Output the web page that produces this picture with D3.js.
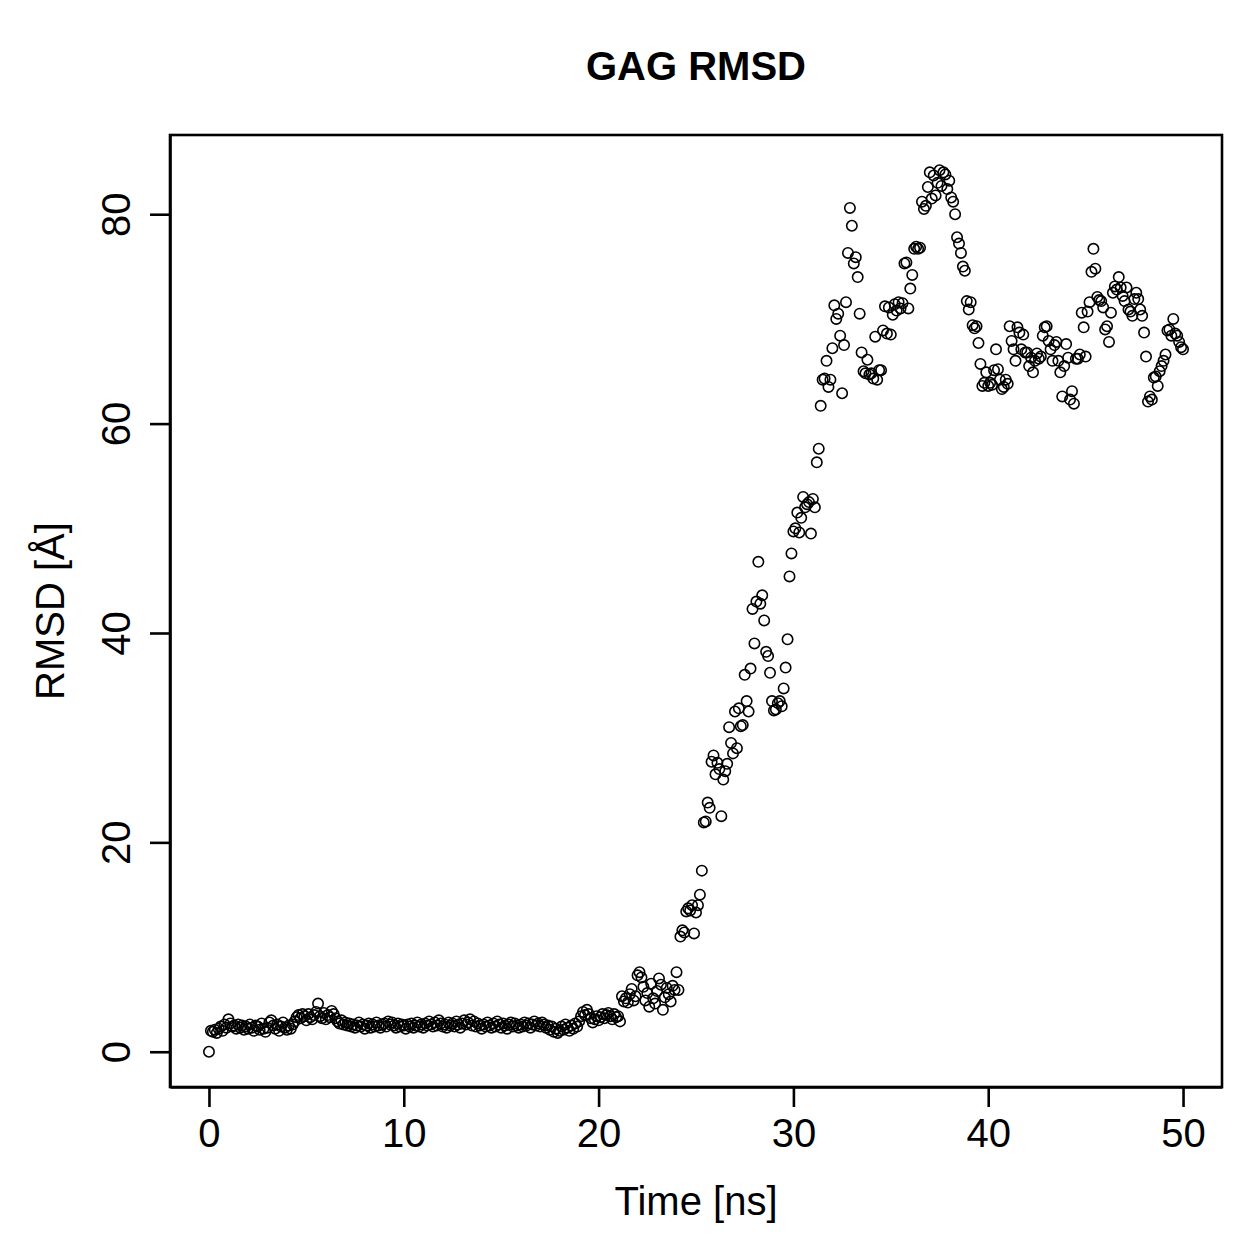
<!DOCTYPE html>
<html>
<head>
<meta charset="utf-8">
<script src="https://cdn.jsdelivr.net/npm/d3@7"></script>
<style>
  body { margin: 0; background: #fff; }
  svg { display: block; }
  text { font-family: "Liberation Sans", Arial, Helvetica, sans-serif; fill: #000; }
</style>
</head>
<body>
<div id="chart"></div>
<script>
const titleText = "GAG RMSD";
const xLabel = "Time [ns]";
const yLabel = "RMSD [Å]";
const xTicks = [0, 10, 20, 30, 40, 50];
const yTicks = [0, 20, 40, 60, 80];
const timeStep = 0.1; // ns between frames

// RMSD per frame, one row per ns
const rmsd = [
  0.0, 2.0, 1.9, 2.1, 1.8, 2.2, 2.4, 2.0, 2.6, 2.3,
  3.1, 2.7, 2.4, 2.5, 2.2, 2.6, 2.3, 2.5, 2.1, 2.4,
  2.2, 2.6, 2.3, 2.0, 2.5, 2.4, 2.1, 2.7, 2.2, 1.9,
  2.3, 2.8, 3.0, 2.5, 2.2, 2.6, 2.0, 2.4, 2.8, 2.3,
  2.1, 2.5, 2.2, 2.6, 2.9, 3.3, 3.5, 3.2, 3.6, 3.4,
  3.0, 3.6, 3.3, 3.1, 3.5, 3.8, 4.6, 3.4, 3.2, 3.7,
  3.1, 3.5, 3.3, 3.9, 3.6, 3.2, 2.9, 2.7, 3.0, 2.6,
  2.8, 2.5, 2.7, 2.4, 2.6, 2.3, 2.5, 2.8, 2.4, 2.6,
  2.2, 2.5, 2.7, 2.3, 2.6, 2.4, 2.8, 2.5, 2.3, 2.6,
  2.7, 2.4, 2.9, 2.6, 2.8, 2.5, 2.3, 2.7, 2.4, 2.6,
  2.5, 2.2, 2.6, 2.4, 2.7, 2.3, 2.5, 2.8, 2.4, 2.6,
  2.3, 2.7, 2.5, 2.9, 2.6, 2.4, 2.8, 2.5, 3.0, 2.7,
  2.4, 2.6, 2.3, 2.8, 2.5, 2.7, 2.4, 2.9, 2.6, 2.3,
  2.7, 3.0, 2.6, 2.8, 3.1, 2.5, 2.9, 2.4, 2.7, 2.5,
  2.2, 2.6, 2.4, 2.8, 2.5, 2.3, 2.7, 2.4, 2.9, 2.6,
  2.3, 2.7, 2.5, 2.2, 2.6, 2.8, 2.4, 2.7, 2.5, 2.3,
  2.6, 2.4, 2.8, 2.5, 2.7, 2.3, 2.6, 2.9, 2.5, 2.7,
  2.4, 2.8, 2.6, 2.3, 2.5, 2.1, 2.4, 1.9, 2.2, 1.8,
  2.0, 2.4, 2.1, 2.6, 2.3, 2.0, 2.5, 2.2, 2.7, 2.4,
  2.9, 3.4, 3.8, 3.5, 4.0, 3.6, 3.2, 2.8, 3.1, 3.4,
  3.0, 3.3, 3.6, 3.2, 3.5, 3.7, 3.4, 3.1, 3.6, 3.3,
  3.4, 2.9, 5.3, 4.8, 5.1, 4.7, 5.5, 6.0, 4.9, 5.3,
  7.3, 7.6, 7.1, 6.2, 4.9, 5.6, 4.3, 6.5, 5.1, 4.6,
  5.8, 7.0, 6.4, 4.0, 5.2, 6.1, 5.5, 4.8, 6.3, 5.9,
  7.6, 5.9, 11.0, 11.6, 11.4, 13.4, 13.7, 13.5, 14.0, 11.3,
  13.3, 14.0, 15.0, 17.3, 21.9, 22.0, 23.8, 23.3, 27.7, 28.3,
  26.5, 27.6, 27.0, 22.5, 26.0, 26.8, 27.5, 31.0, 29.5, 28.5,
  32.5, 29.0, 32.8, 31.1, 31.2, 36.0, 33.5, 32.5, 36.6, 42.3,
  39.0, 43.0, 46.8, 42.8, 43.6, 41.2, 38.2, 37.8, 36.2, 33.5,
  32.6, 32.7, 33.3, 33.5, 33.0, 34.7, 36.7, 39.4, 45.4, 47.6,
  49.7, 50.0, 51.5, 49.6, 51.0, 53.0, 52.0, 52.3, 52.5, 49.5,
  52.8, 52.0, 56.3, 57.6, 61.7, 64.2, 64.3, 66.0, 63.5, 64.2,
  67.2, 71.3, 70.0, 70.5, 68.4, 62.9, 67.5, 71.6, 76.3, 80.6,
  78.9, 75.3, 75.9, 74.0, 70.5, 66.8, 65.0, 64.8, 66.1, 64.7,
  64.8, 64.3, 68.3, 64.2, 65.1, 65.1, 68.9, 71.2, 68.6, 71.1,
  68.5, 70.4, 71.4, 70.8, 71.6, 71.0, 71.5, 75.3, 75.4, 71.0,
  72.9, 74.2, 76.7, 76.9, 76.7, 76.8, 81.2, 80.5, 80.8, 82.6,
  84.0, 81.5, 83.7, 81.8, 83.0, 84.2, 82.7, 84.0, 83.8, 82.4,
  83.2, 81.6, 81.2, 80.0, 77.8, 77.2, 76.3, 75.0, 74.6, 71.7,
  70.9, 71.6, 69.4, 69.1, 69.3, 67.7, 65.7, 63.6, 63.9, 64.9,
  63.6, 63.9, 63.7, 65.1, 67.1, 65.2, 64.2, 63.3, 63.5, 64.2,
  63.8, 69.3, 67.9, 67.1, 66.0, 69.2, 68.7, 67.1, 68.5, 66.8,
  66.8, 65.5, 66.3, 64.9, 66.0, 66.7, 66.2, 66.4, 68.4, 69.2,
  69.3, 67.9, 67.1, 66.0, 67.5, 67.8, 66.0, 64.9, 62.6, 65.5,
  67.6, 66.3, 62.3, 63.1, 61.9, 66.2, 66.2, 66.6, 70.6, 69.2,
  66.4, 70.7, 71.6, 74.5, 76.7, 74.8, 72.1, 71.8, 71.7, 71.1,
  69.0, 69.3, 67.8, 70.6, 72.5, 73.1, 72.8, 74.0, 73.0, 72.2,
  71.7, 73.0, 70.9, 70.7, 70.3, 71.9, 72.5, 71.9, 70.9, 70.3,
  68.7, 66.4, 62.1, 62.6, 62.3, 64.4, 64.5, 63.6, 65.0, 65.5,
  66.0, 66.6, 68.9, 69.0, 68.4, 70.0, 68.6, 68.4, 67.8, 67.3,
  67.1
];

const data = rmsd.map((v, i) => ({ time: +(i * timeStep).toFixed(1), value: v }));

const W = 1259, H = 1259;
const margin = { top: 135, right: 37, bottom: 172, left: 170 };
const width = W - margin.left - margin.right;
const height = H - margin.top - margin.bottom;
const fontSize = 40;

const svg = d3.select("#chart")
  .append("svg")
  .attr("width", W)
  .attr("height", H);

const g = svg.append("g")
  .attr("transform", `translate(${margin.left},${margin.top})`);

// R style: extend range by 4% on each side
const pad = (lo, hi) => { const d = (hi - lo) * 0.04; return [lo - d, hi + d]; };
const xExt = d3.extent(data, d => d.time);
const yExt = d3.extent(data, d => d.value);

const x = d3.scaleLinear().domain(pad(xExt[0], xExt[1])).range([0, width]);
const y = d3.scaleLinear().domain(pad(yExt[0], yExt[1])).range([height, 0]);

// points
g.append("g")
  .selectAll("circle")
  .data(data)
  .join("circle")
  .attr("cx", d => x(d.time))
  .attr("cy", d => y(d.value))
  .attr("r", 5.2)
  .attr("fill", "none")
  .attr("stroke", "#000")
  .attr("stroke-width", 1.6);

// box
g.append("rect")
  .attr("x", 0).attr("y", 0)
  .attr("width", width).attr("height", height)
  .attr("fill", "none")
  .attr("stroke", "#000")
  .attr("stroke-width", 2.6);

// x axis
const xAxis = g.append("g")
  .attr("transform", `translate(0,${height})`)
  .call(d3.axisBottom(x).tickValues(xTicks).tickSize(20).tickSizeOuter(0).tickFormat(d3.format("d")));
xAxis.select(".domain").attr("stroke-width", 2.6);
xAxis.selectAll(".tick line").attr("stroke-width", 2.6);
xAxis.selectAll(".tick text")
  .attr("y", 32)
  .attr("dy", "0.71em")
  .style("font-size", fontSize + "px")
  .style("font-family", "'Liberation Sans', Arial, sans-serif");

// y axis
const yAxis = g.append("g")
  .call(d3.axisLeft(y).tickValues(yTicks).tickSize(20).tickSizeOuter(0).tickFormat(d3.format("d")));
yAxis.select(".domain").attr("stroke-width", 2.6);
yAxis.selectAll(".tick line").attr("stroke-width", 2.6);
yAxis.selectAll(".tick text")
  .attr("x", null)
  .attr("dy", null)
  .attr("transform", "translate(-40,0) rotate(-90)")
  .attr("text-anchor", "middle")
  .style("font-size", fontSize + "px")
  .style("font-family", "'Liberation Sans', Arial, sans-serif");

// title and labels
svg.append("text")
  .attr("x", margin.left + width / 2)
  .attr("y", 80)
  .attr("text-anchor", "middle")
  .style("font-size", fontSize + "px")
  .style("font-weight", "bold")
  .text(titleText);

svg.append("text")
  .attr("x", margin.left + width / 2)
  .attr("y", 1215)
  .attr("text-anchor", "middle")
  .style("font-size", fontSize + "px")
  .text(xLabel);

svg.append("text")
  .attr("transform", `translate(64,${margin.top + height / 2}) rotate(-90)`)
  .attr("text-anchor", "middle")
  .style("font-size", fontSize + "px")
  .text(yLabel);
</script>
</body>
</html>
